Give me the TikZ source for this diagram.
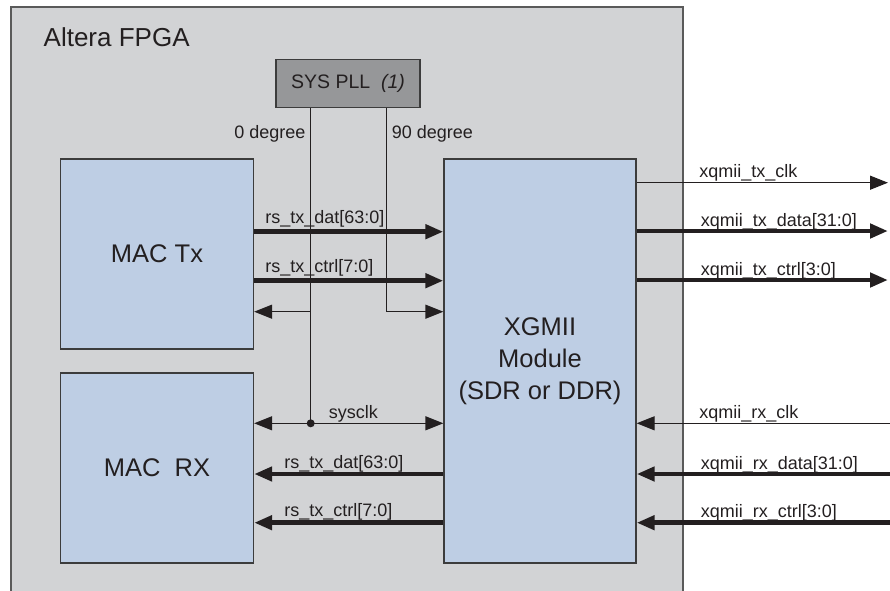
\documentclass[tikz,border=0pt]{standalone}
\usepackage{fontspec}
\setmainfont{Liberation Sans}
\usetikzlibrary{arrows.meta}
\definecolor{fpgagray}{RGB}{210,211,213}
\definecolor{fpgaline}{RGB}{90,90,90}
\definecolor{blockblue}{RGB}{190,206,228}
\definecolor{pllgray}{RGB}{150,151,153}
\definecolor{boxline}{RGB}{60,60,60}
\definecolor{inkblack}{RGB}{35,31,32}
\tikzset{%
	>={Triangle[length=18pt,width=14pt]},
	% Specifications for style of nodes:
	base/.style = {rectangle, draw=boxline, line width=1.3pt,
		text centered, align=center, text=inkblack,
		font=\fontsize{25.5}{32}\selectfont},
	macblock/.style = {base, fill=blockblue, minimum width=193pt, minimum height=190pt},
	xgmiiblock/.style = {base, fill=blockblue, minimum width=192pt, minimum height=404pt},
	pllblock/.style = {base, fill=pllgray, minimum width=144pt, minimum height=48pt,
		font=\fontsize{19.5}{24}\selectfont},
	% Specifications for style of connectors:
	sig/.style = {draw=inkblack, line width=1.3pt},
	bus/.style = {draw=inkblack, line width=4.5pt},
	sigtext/.style = {font=\fontsize{18}{22}\selectfont, inner sep=0pt, text=inkblack},
}
\begin{document}
\begin{tikzpicture}[x=1pt, y=-1pt, node distance=214pt]
		\useasboundingbox (0,0) rectangle (890,590);
		
		% FPGA frame, open at the bottom
		\fill[fpgagray] (11,7) rectangle (683,600);
		\draw[fpgaline, line width=2.5pt] (11,600) -- (11,7) -- (683,7) -- (683,600);
		\node (fpgaTitle) [anchor=base west, inner sep=0pt, text=inkblack,
			font=\fontsize{26}{30}\selectfont] at (43.5,46) {Altera FPGA};
		
		% Specification of nodes (position, etc.)
		\node (macTx)  [macblock] at (157,254) {MAC Tx};
		\node (macRx)  [macblock, below of=macTx] {MAC\ \ RX};
		\node (xgmii)  [xgmiiblock, right of=macTx, xshift=169pt, yshift=-107pt]
			{XGMII \\ Module \\ (SDR or DDR)};
		\node (pll)    [pllblock] at (348,83.5) {SYS PLL \ \textit{(1)}};
		
		\coordinate (zeroTap)   at ([xshift=-37.3pt]pll.south);
		\coordinate (ninetyTap) at ([xshift=38.7pt]pll.south);
		\coordinate (clkJoint)  at (zeroTap |- 0,423.3);
		
		\node (zeroText)   [sigtext, anchor=base east] at ([xshift=-5pt]zeroTap |- 0,138) {0 degree};
		\node (ninetyText) [sigtext, anchor=base west] at ([xshift=5pt]ninetyTap |- 0,138) {90 degree};
		
		% free ends at the right border
		\coordinate (txClkOut)  at (888,182.7);
		\coordinate (txDatOut)  at (888,231);
		\coordinate (txCtlOut)  at (888,280);
		\coordinate (rxClkIn)   at (892,423.3);
		\coordinate (rxDatIn)   at (892,474);
		\coordinate (rxCtlIn)   at (892,522.7);
		
		% clocks from the PLL
		\draw[sig] (zeroTap) -- (clkJoint);
		\draw[sig] (ninetyTap) -- (ninetyTap |- 0,311.7);
		
		\draw[->] [sig] (zeroTap |- 0,311.7) -- (macTx.east |- 0,311.7);
		\draw[->] [sig] (ninetyTap |- 0,311.7) -- (xgmii.west |- 0,311.7);
		
		\draw[<->] [sig] (macRx.east |- clkJoint) -- node[sigtext, pos=0, anchor=base west, xshift=74pt, yshift=5pt] {sysclk} (xgmii.west |- clkJoint);
		\fill[inkblack] (clkJoint) circle (4pt);
		
		% MAC Tx to XGMII
		\draw[->] [bus] (macTx.east |- 0,231.7) -- node[sigtext, pos=0, anchor=base west, xshift=9pt, yshift=8pt] {rs\_tx\_dat[63:0]} (xgmii.west |- 0,231.7);
		\draw[->] [bus] (macTx.east |- 0,280.7) -- node[sigtext, pos=0, anchor=base west, xshift=9pt, yshift=8pt] {rs\_tx\_ctrl[7:0]} (xgmii.west |- 0,280.7);
		
		% XGMII to MAC RX
		\draw[->] [bus] (xgmii.west |- 0,474) -- node[sigtext, pos=1, anchor=base west, xshift=28pt, yshift=6pt] {rs\_tx\_dat[63:0]} (macRx.east |- 0,474);
		\draw[->] [bus] (xgmii.west |- 0,522.7) -- node[sigtext, pos=1, anchor=base west, xshift=28pt, yshift=6pt] {rs\_tx\_ctrl[7:0]} (macRx.east |- 0,522.7);
		
		% XGMII transmit side
		\draw[->] [sig] (xgmii.east |- txClkOut) -- node[sigtext, pos=0, anchor=base west, xshift=62pt, yshift=5pt] {xqmii\_tx\_clk} (txClkOut);
		\draw[->] [bus] (xgmii.east |- txDatOut) -- node[sigtext, pos=0, anchor=base west, xshift=62pt, yshift=5pt] {xqmii\_tx\_data[31:0]} (txDatOut);
		\draw[->] [bus] (xgmii.east |- txCtlOut) -- node[sigtext, pos=0, anchor=base west, xshift=62pt, yshift=5pt] {xqmii\_tx\_ctrl[3:0]} (txCtlOut);
		
		% XGMII receive side
		\draw[->] [sig] (rxClkIn) -- node[sigtext, pos=1, anchor=base west, xshift=62pt, yshift=5pt] {xqmii\_rx\_clk} (xgmii.east |- rxClkIn);
		\draw[->] [bus] (rxDatIn) -- node[sigtext, pos=1, anchor=base west, xshift=62pt, yshift=5pt] {xqmii\_rx\_data[31:0]} (xgmii.east |- rxDatIn);
		\draw[->] [bus] (rxCtlIn) -- node[sigtext, pos=1, anchor=base west, xshift=62pt, yshift=5pt] {xqmii\_rx\_ctrl[3:0]} (xgmii.east |- rxCtlIn);
		
	\end{tikzpicture}
\end{document}
